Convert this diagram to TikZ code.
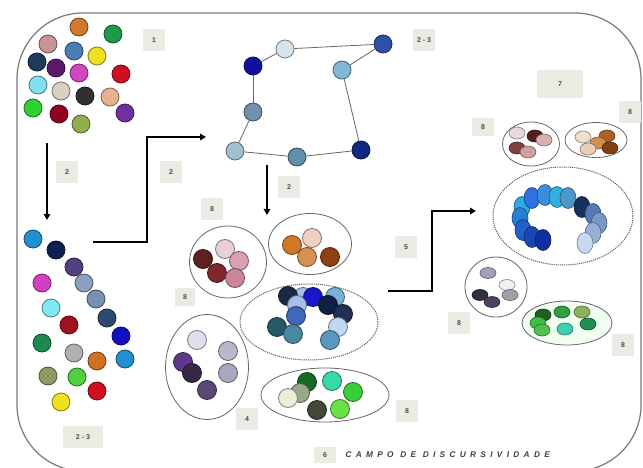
\documentclass[tikz,border=0pt]{standalone}
\usepackage{fontspec}
\setmainfont{Liberation Sans}
\newfontfamily\campofont[LetterSpace=52]{Liberation Sans}
\usetikzlibrary{shapes.geometric,arrows.meta}
\definecolor{lblfill}{HTML}{EBEBE3}
\definecolor{lbltext}{HTML}{4A4A4A}
\definecolor{framec}{HTML}{7A7A7A}
\tikzset{
 dot/.style={circle,/utils/exec={\definecolor{dc}{HTML}{#1}},fill=dc,draw=dc!55!black,line width=0.8pt,minimum size=18pt,inner sep=0pt},
 mdot/.style={dot=#1,minimum size=19pt},
 sdot/.style={ellipse,/utils/exec={\definecolor{dc}{HTML}{#1}},fill=dc,draw=dc!55!black,line width=0.6pt,minimum width=16pt,minimum height=12pt,inner sep=0pt},
 rdot/.style={sdot=#1,minimum width=16pt,minimum height=21pt},
 grp/.style={ellipse,draw=black!60,line width=0.8pt,inner sep=0pt},
 dgrp/.style={grp,dash pattern=on 1.2pt off 0.9pt,line width=1pt},
 lbl/.style={fill=lblfill,text=lbltext,font=\bfseries\fontsize{7}{8}\selectfont,minimum width=22pt,minimum height=22pt,inner sep=1pt},
 arr/.style={line width=2pt,-{Triangle[length=6pt,width=6.5pt]}},
 link/.style={draw=black!60,line width=0.8pt},
}
\begin{document}
\begin{tikzpicture}[x=1pt,y=-1pt]
\useasboundingbox (0,0) rectangle (643,468);
\fill[white] (0,0) rectangle (643,468);
% frame
\draw[framec,line width=1.2pt,rounded corners=66pt] (17,13) rectangle (641,471);

% cluster 1
\node[dot=D2782F] (k1) at (79,27) {};
\node[dot=1E9A4A] (k2) at (113,34) {};
\node[dot=C89494] (k3) at (48,44) {};
\node[dot=4A7DB8] (k4) at (74,51) {};
\node[dot=F0E020] (k5) at (97,56) {};
\node[dot=1F3A5A] (k6) at (37,62) {};
\node[dot=5A1A6A] (k7) at (56,68) {};
\node[dot=D048C0] (k8) at (79,73) {};
\node[dot=D01020] (k9) at (121,74) {};
\node[dot=80E0F0] (k10) at (38,85) {};
\node[dot=D8D0C0] (k11) at (61,91) {};
\node[dot=303030] (k12) at (85,96) {};
\node[dot=E8B090] (k13) at (110,97) {};
\node[dot=30D030] (k14) at (33,108) {};
\node[dot=900020] (k15) at (59,114) {};
\node[dot=7030A0] (k16) at (125,113) {};
\node[dot=90B050] (k17) at (81,124) {};

% left column
\node[dot=2090D0] (c1) at (33,239) {};
\node[dot=102050] (c2) at (56,250) {};
\node[dot=504080] (c3) at (74,267) {};
\node[dot=D040C0] (c4) at (42,283) {};
\node[dot=8AA0C0] (c5) at (84,283) {};
\node[dot=7890B0] (c6) at (96,299) {};
\node[dot=80E8F0] (c7) at (51,308) {};
\node[dot=2A4A70] (c8) at (107,318) {};
\node[dot=A01020] (c9) at (69,325) {};
\node[dot=1010C0] (c10) at (121,336) {};
\node[dot=1A8A50] (c11) at (42,343) {};
\node[dot=B0B0B0] (c12) at (74,353) {};
\node[dot=D07020] (c13) at (97,361) {};
\node[dot=2090D0] (c14) at (125,359) {};
\node[dot=8A9A60] (c15) at (48,376) {};
\node[dot=50D040] (c16) at (77,377) {};
\node[dot=D01020] (c17) at (97,391) {};
\node[dot=F0E020] (c18) at (61,402) {};

% chain
\node[dot=D8E4EC] (hA) at (285,49) {};
\node[dot=3050A8] (hB) at (383,44) {};
\node[dot=1010A0] (hC) at (253,66) {};
\node[dot=80B8D8] (hD) at (342,70) {};
\node[dot=7090B0] (hE) at (253,112) {};
\node[dot=A0C0D0] (hF) at (235,151) {};
\node[dot=6090A8] (hG) at (297,157) {};
\node[dot=102880] (hH) at (361,150) {};
\draw[link] (hA) -- (hB);
\draw[link] (hA) -- (hC);
\draw[link] (hB) -- (hD);
\draw[link] (hC) -- (hE);
\draw[link] (hE) -- (hF);
\draw[link] (hF) -- (hG);
\draw[link] (hG) -- (hH);
\draw[link] (hH) -- (hD);

% middle groups
\node[grp,minimum width=77pt,minimum height=72pt] (g1) at (228,262) {};
\node[mdot=602020] at (203,259) (p1) {};
\node[mdot=E8D0D8] at (225,249) (p2) {};
\node[mdot=D8A0B0] at (239,261) (p3) {};
\node[mdot=802830] at (217,273) (p4) {};
\node[mdot=C88898] at (235,278) (p5) {};

\node[grp,minimum width=83pt,minimum height=61pt] (g2) at (310,244) {};
\node[mdot=D07828] at (292,245) (o1) {};
\node[mdot=F0D0C0] at (312,238) (o2) {};
\node[mdot=D89050] at (307,257) (o3) {};
\node[mdot=904010] at (330,257) (o4) {};

\node[dgrp,minimum width=138pt,minimum height=76pt] (g3) at (309,322) {};
\node[mdot=A8C0E8] at (303,297) (b2) {};
\node[mdot=1A2848] at (288,296) (b1) {};
\node[mdot=78B0D8] at (335,297) (b4) {};
\node[mdot=1818C8] at (313,297) (b3) {};
\node[mdot=102040] at (328,305) (b5) {};
\node[mdot=203050] at (343,314) (b6) {};
\node[mdot=A8C0E8] at (297,305) (b7) {};
\node[mdot=4068B8] at (296,316) (b8) {};
\node[mdot=285868] at (277,327) (b9) {};
\node[mdot=4888A0] at (293,334) (b10) {};
\node[mdot=C0D8F0] at (338,327) (b11) {};
\node[mdot=5898C0] at (330,340) (b12) {};

\node[grp,minimum width=83pt,minimum height=105pt] (g4) at (207,367) {};
\node[mdot=E0E0EC] at (197,340) (u1) {};
\node[mdot=B8B8CC] at (228,351) (u2) {};
\node[mdot=603888] at (183,362) (u3) {};
\node[mdot=382848] at (192,373) (u4) {};
\node[mdot=A8A8C0] at (228,373) (u5) {};
\node[mdot=584878] at (207,390) (u6) {};

\node[grp,minimum width=128pt,minimum height=54pt] (g5) at (325,395) {};
\node[mdot=186828] at (307,382) (v1) {};
\node[mdot=38D8A8] at (332,381) (v2) {};
\node[mdot=38D038] at (353,392) (v3) {};
\node[mdot=98A888] at (300,393) (v4) {};
\node[mdot=E8F0D8] at (288,398) (v5) {};
\node[mdot=404838] at (317,410) (v6) {};
\node[mdot=68E048] at (340,409) (v7) {};

% right groups
\node[grp,minimum width=57pt,minimum height=44pt] (r1) at (531,144) {};
\node[sdot=E8D8E0] at (517,133) (ra1) {};
\node[sdot=502020] at (535,136) (ra2) {};
\node[sdot=D8B0B0] at (544,140) (ra3) {};
\node[sdot=804040] at (517,148) (ra4) {};
\node[sdot=D0A0A0] at (528,152) (ra5) {};

\node[grp,minimum width=62pt,minimum height=35pt] (r2) at (596,140) {};
\node[sdot=F0E0D0] at (583,137) (rb1) {};
\node[sdot=B06020] at (607,136) (rb2) {};
\node[sdot=D09050] at (598,143) (rb3) {};
\node[sdot=E8D0B8] at (588,149) (rb4) {};
\node[sdot=804010] at (610,148) (rb5) {};

\node[dgrp,minimum width=140pt,minimum height=98pt] (r3) at (563,216) {};
\node[rdot=30A8E0] at (522,207) (rc1) {};
\node[rdot=3070E0] at (532,198) (rc2) {};
\node[rdot=3C8CE0] at (545,195) (rc3) {};
\node[rdot=30B0E0] at (557,197) (rc4) {};
\node[rdot=4898C8] at (568,198) (rc5) {};
\node[rdot=183060] at (582,207) (rc6) {};
\node[rdot=5878B8] at (593,214) (rc7) {};
\node[rdot=7898C8] at (599,223) (rc8) {};
\node[rdot=98B0D8] at (593,233) (rc9) {};
\node[rdot=C8D8F0] at (585,243) (rc10) {};
\node[rdot=2880D0] at (520,218) (rc11) {};
\node[rdot=2060C8] at (523,230) (rc12) {};
\node[rdot=1848B0] at (532,237) (rc13) {};
\node[rdot=1030A0] at (543,240) (rc14) {};

\node[grp,minimum width=62pt,minimum height=60pt] (r4) at (496,287) {};
\node[sdot=A0A0B8,minimum height=11pt] at (488,273) (rd1) {};
\node[sdot=F0F0F0,minimum height=11pt] at (507,285) (rd2) {};
\node[sdot=303040,minimum height=11pt] at (480,295) (rd3) {};
\node[sdot=A0A0A8,minimum height=11pt] at (510,295) (rd4) {};
\node[sdot=504060,minimum height=11pt] at (492,302) (rd5) {};

\node[grp,fill=green!6,minimum width=90pt,minimum height=44pt] (r5) at (567,323) {};
\node[sdot=206020] at (543,315) (re1) {};
\node[sdot=30A040] at (562,312) (re2) {};
\node[sdot=90B060] at (582,312) (re3) {};
\node[sdot=40C040] at (538,323) (re4) {};
\node[sdot=50C050] at (542,330) (re5) {};
\node[sdot=40D0B0] at (565,329) (re6) {};
\node[sdot=209050] at (588,324) (re7) {};

% arrows
\coordinate (a1s) at (47,143);
\coordinate (a1e) at (47,220);
\draw[arr] (a1s) -- (a1e);
\coordinate (a2s) at (93,242);
\coordinate (a2m) at (147,137);
\coordinate (a2e) at (206,137);
\draw[arr] (a2s) -| (a2m) -- (a2e);
\coordinate (a3s) at (267,165);
\coordinate (a3e) at (267,215);
\draw[arr] (a3s) -- (a3e);
\coordinate (a5s) at (388,291);
\coordinate (a5m) at (432,211);
\coordinate (a5e) at (476,211);
\draw[arr] (a5s) -| (a5m) -- (a5e);

% labels
\node[lbl] (l1) at (154,40) {1};
\node[lbl] (l2a) at (67,172) {2};
\node[lbl] (l2b) at (171,172) {2};
\node[lbl] (l23t) at (424,40) {2 - 3};
\node[lbl] (l2c) at (289,187) {2};
\node[lbl] (l8a) at (212,209) {8};
\node[lbl,minimum width=20pt,minimum height=18pt] (l8b) at (185,297) {8};
\node[lbl] (l5) at (406,247) {5};
\node[lbl] (l4) at (247,419) {4};
\node[lbl] (l8c) at (407,411) {8};
\node[lbl,minimum width=40pt] (l23b) at (83,437) {2 - 3};
\node[lbl,minimum width=46pt,minimum height=28pt] (l7) at (560,84) {7};
\node[lbl,minimum height=18pt] (l8d) at (483,127) {8};
\node[lbl] (l8e) at (630,112) {8};
\node[lbl] (l8f) at (459,323) {8};
\node[lbl] (l8g) at (623,345) {8};
\node[lbl,minimum height=16pt] (l6) at (325,455) {6};
\node[font=\campofont\itshape\bfseries\fontsize{8.3}{9}\selectfont,text=black!75,anchor=west] (campo) at (342,455) {CAMPO DE DISCURSIVIDADE};
\end{tikzpicture}
\end{document}
